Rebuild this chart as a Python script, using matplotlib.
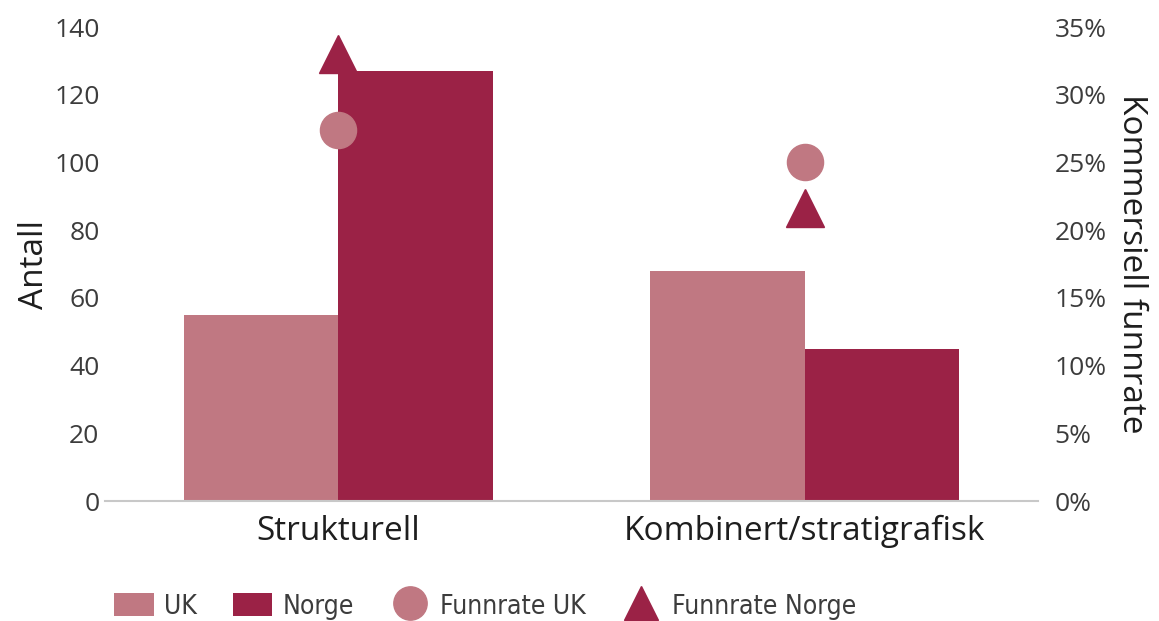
import matplotlib
matplotlib.use("Agg")
import matplotlib.pyplot as plt
from matplotlib.patches import Patch
from matplotlib.lines import Line2D
import numpy as np

# Data
categories = ["Strukturell", "Kombinert/stratigrafisk"]
antall_uk = [55, 68]
antall_norge = [127, 45]
funnrate_uk = [27.4, 25.0]      # percent
funnrate_norge = [33.0, 21.6]   # percent

yticks_left = [0, 20, 40, 60, 80, 100, 120, 140]
yticks_right = [0, 5, 10, 15, 20, 25, 30, 35]

col_uk = "#C07882"
col_no = "#9B2246"
txt = "#3C3C3C"
font = ["Open Sans", "DejaVu Sans"]

fig = plt.figure(figsize=(11.59, 6.21), dpi=100)
ax = fig.add_axes([0.0906, 0.1932, 0.805, 0.7633])
ax2 = ax.twinx()

x = np.arange(len(categories))
w = 0.331
ax.bar(x - w / 2, antall_uk, width=w, color=col_uk, zorder=2)
ax.bar(x + w / 2, antall_norge, width=w, color=col_no, zorder=2)

ax2.plot(x, funnrate_uk, linestyle="none", marker="o", markersize=26,
         color=col_uk, zorder=3)
ax2.plot(x, funnrate_norge, linestyle="none", marker="^", markersize=28,
         color=col_no, zorder=3)

ax.set_xlim(-0.5, 1.5)
ax.set_ylim(0, 140)
ax2.set_ylim(0, 35)
ax.set_yticks(yticks_left)
ax.set_yticklabels([str(v) for v in yticks_left])
ax2.set_yticks(yticks_right)
ax2.set_yticklabels([f"{v}%" for v in yticks_right])
ax.set_xticks(x)
ax.set_xticklabels(categories)

for a in (ax, ax2):
    for s in a.spines.values():
        s.set_visible(False)
    a.tick_params(length=0, colors=txt, labelsize=19)
    for lab in a.get_yticklabels() + a.get_xticklabels():
        lab.set_family(font)
ax.spines["bottom"].set_visible(True)
ax.spines["bottom"].set_color("#C8C8C8")
ax.spines["bottom"].set_linewidth(1.5)
ax.tick_params(axis="x", pad=10, labelsize=24, colors="#1E1E1E")
ax.tick_params(axis="y", pad=4)
ax2.tick_params(axis="y", pad=12)

ax.set_ylabel("Antall", fontsize=24, family=font, color="#1E1E1E", labelpad=2)
ax2.set_ylabel("Kommersiell funnrate", fontsize=24, family=font, color="#1E1E1E",
               rotation=-90, labelpad=30)

handles = [
    Patch(facecolor=col_uk, label="UK"),
    Patch(facecolor=col_no, label="Norge"),
    Line2D([], [], linestyle="none", marker="o", markersize=24, color=col_uk,
           label="Funnrate UK"),
    Line2D([], [], linestyle="none", marker="^", markersize=24, color=col_no,
           label="Funnrate Norge"),
]
leg = fig.legend(handles=handles, loc="lower left", bbox_to_anchor=(0.078, -0.036),
                 ncol=4, frameon=False, handlelength=1.5, handleheight=1.0,
                 columnspacing=1.35, handletextpad=0.4,
                 prop={"family": "DejaVu Sans", "stretch": "condensed", "size": 19})
for t in leg.get_texts():
    t.set_color(txt)

fig.savefig("out.png", dpi=100, facecolor="white")
